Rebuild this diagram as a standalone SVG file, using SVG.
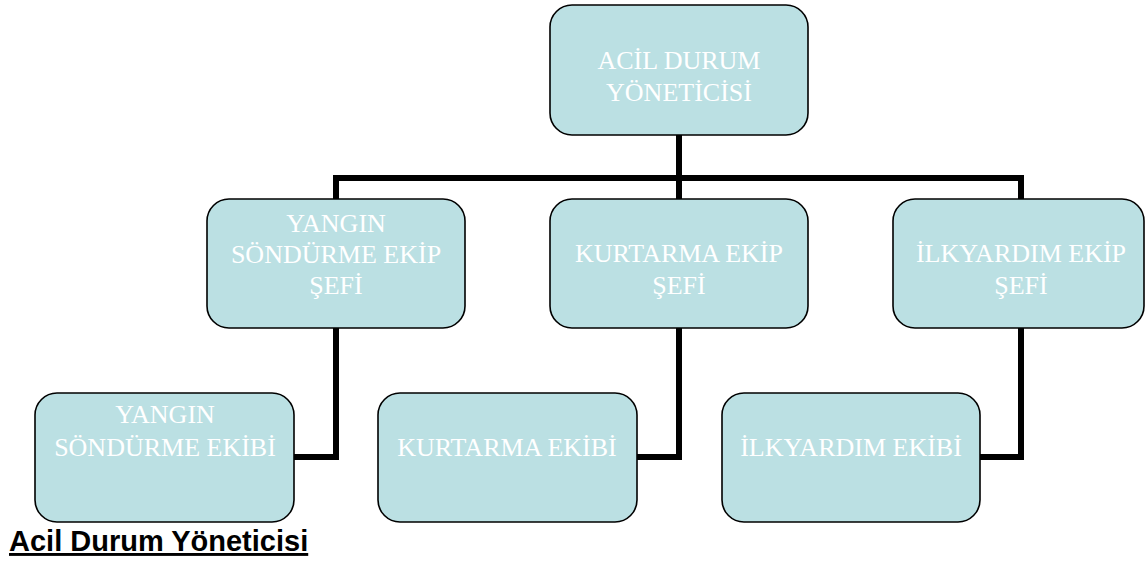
<svg xmlns="http://www.w3.org/2000/svg" width="1145" height="565" viewBox="0 0 1145 565">
<style>
.box{fill:#BBE0E3;stroke:#000;stroke-width:1.6}
.lbl{font-family:"Liberation Serif","Times New Roman",serif;font-size:26px;fill:#fff;text-anchor:middle}
.conn{fill:none;stroke:#000;stroke-width:6;stroke-linejoin:miter;stroke-linecap:butt}
.title{font-family:"Liberation Sans",Arial,sans-serif;font-size:29px;font-weight:bold;fill:#000;text-decoration:underline}
</style>
<rect width="1145" height="565" fill="#fff"/>
<g id="connectors">
<path class="conn" d="M679 135 V199"/>
<path class="conn" d="M336 199 V178 H1021 V199"/>
<path class="conn" d="M336 328 V457 H294"/>
<path class="conn" d="M679 328 V457 H637"/>
<path class="conn" d="M1021 328 V457 H980"/>
</g>
<g id="acil-durum-yoneticisi">
<rect class="box" x="550" y="5" width="258" height="130" rx="22" ry="22"/>
<text class="lbl" x="679" y="69">ACİL DURUM</text>
<text class="lbl" x="679" y="101">YÖNETİCİSİ</text>
</g>
<g id="yangin-sondurme-ekip-sefi">
<rect class="box" x="207" y="199" width="258" height="129" rx="22" ry="22"/>
<text class="lbl" x="336" y="232">YANGIN</text>
<text class="lbl" x="336" y="263">SÖNDÜRME EKİP</text>
<text class="lbl" x="336" y="294">ŞEFİ</text>
</g>
<g id="kurtarma-ekip-sefi">
<rect class="box" x="550" y="199" width="258" height="129" rx="22" ry="22"/>
<text class="lbl" x="679" y="262">KURTARMA EKİP</text>
<text class="lbl" x="679" y="294">ŞEFİ</text>
</g>
<g id="ilkyardim-ekip-sefi">
<rect class="box" x="893" y="199" width="251" height="129" rx="22" ry="22"/>
<text class="lbl" x="1021" y="262">İLKYARDIM EKİP</text>
<text class="lbl" x="1021" y="294">ŞEFİ</text>
</g>
<g id="yangin-sondurme-ekibi">
<rect class="box" x="35" y="393" width="259" height="129" rx="22" ry="22"/>
<text class="lbl" x="165" y="423">YANGIN</text>
<text class="lbl" x="165" y="456">SÖNDÜRME EKİBİ</text>
</g>
<g id="kurtarma-ekibi">
<rect class="box" x="378" y="393" width="259" height="129" rx="22" ry="22"/>
<text class="lbl" x="507" y="456">KURTARMA EKİBİ</text>
</g>
<g id="ilkyardim-ekibi">
<rect class="box" x="722" y="393" width="258" height="129" rx="22" ry="22"/>
<text class="lbl" x="851" y="456">İLKYARDIM EKİBİ</text>
</g>
<text class="title" x="9" y="551">Acil Durum Yöneticisi</text>
</svg>
